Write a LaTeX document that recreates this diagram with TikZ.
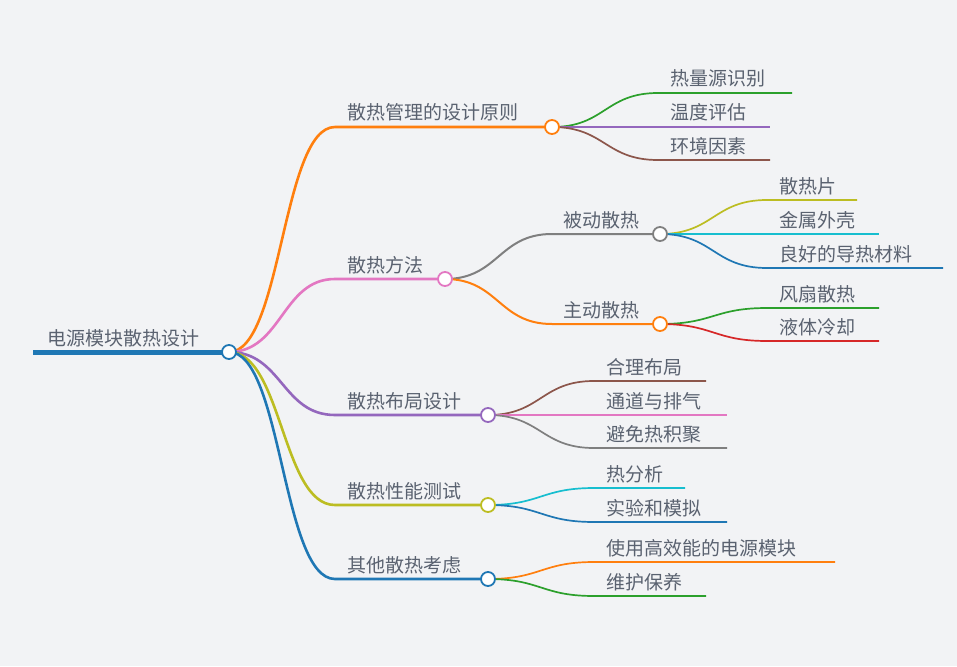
\documentclass[tikz,border=0pt]{standalone}
\usepackage{fontspec}
\setmainfont{Noto Sans CJK SC}
\usetikzlibrary{calc}
\definecolor{bg}{RGB}{242,243,245}
\definecolor{txt}{RGB}{90,98,112}
\definecolor{cblue}{HTML}{1F77B4}
\definecolor{corange}{HTML}{FF7F0E}
\definecolor{cgreen}{HTML}{2CA02C}
\definecolor{cred}{HTML}{D62728}
\definecolor{cpurple}{HTML}{9467BD}
\definecolor{cbrown}{HTML}{8C564B}
\definecolor{cpink}{HTML}{E377C2}
\definecolor{cgray}{HTML}{7F7F7F}
\definecolor{colive}{HTML}{BCBD22}
\definecolor{ccyan}{HTML}{17BECF}
\begin{document}
\begin{tikzpicture}[x=1pt,y=-1pt,
  lbl/.style={anchor=base west, inner sep=0pt, text=txt, font=\fontsize{19}{21}\selectfont},
  dot/.style={circle, draw=#1, fill=white, line width=1.8pt, minimum size=14pt, inner sep=0pt},
  l1/.style={draw=#1, line width=2.6pt, line cap=round},
  l2/.style={draw=#1, line width=2pt, line cap=round},
  l3/.style={draw=#1, line width=1.7pt},
  link/.style={to path={let \p1=(\tikztostart), \p2=(\tikztotarget) in .. controls ({0.5*\x1+0.5*\x2},\y1) and ({0.5*\x1+0.5*\x2},\y2) .. (\tikztotarget)}}
]
\fill[bg] (0,0) rectangle (957,666);
\useasboundingbox (0,0) rectangle (957,666);

% coordinates
\coordinate (rs) at (33,352);
\coordinate (root) at (229,352);
\coordinate (a1s) at (335,127); \coordinate (a1c) at (552,127);
\coordinate (a2s) at (335,279); \coordinate (a2c) at (445,279);
\coordinate (a3s) at (335,415); \coordinate (a3c) at (488,415);
\coordinate (a4s) at (335,505); \coordinate (a4c) at (488,505);
\coordinate (a5s) at (335,579); \coordinate (a5c) at (488,579);
% branch 1 leaves
\coordinate (e11s) at (658,93);  \coordinate (e11e) at (792,93);
\coordinate (e12s) at (658,127); \coordinate (e12e) at (770,127);
\coordinate (e13s) at (658,160); \coordinate (e13e) at (770,160);
% branch 2
\coordinate (b1s) at (552,234); \coordinate (b1c) at (660,234);
\coordinate (b2s) at (552,324); \coordinate (b2c) at (660,324);
\coordinate (f11s) at (767,200); \coordinate (f11e) at (857,200);
\coordinate (f12s) at (767,234); \coordinate (f12e) at (879,234);
\coordinate (f13s) at (767,268); \coordinate (f13e) at (943,268);
\coordinate (f21s) at (767,308); \coordinate (f21e) at (879,308);
\coordinate (f22s) at (767,341); \coordinate (f22e) at (879,341);
% branch 3
\coordinate (e31s) at (594,381); \coordinate (e31e) at (706,381);
\coordinate (e32s) at (594,415); \coordinate (e32e) at (727,415);
\coordinate (e33s) at (594,448); \coordinate (e33e) at (727,448);
% branch 4
\coordinate (e41s) at (594,488); \coordinate (e41e) at (685,488);
\coordinate (e42s) at (594,522); \coordinate (e42e) at (727,522);
% branch 5
\coordinate (e51s) at (594,562); \coordinate (e51e) at (835,562);
\coordinate (e52s) at (594,596); \coordinate (e52e) at (706,596);

% root underline
\draw[draw=cblue, line width=5pt] (rs) -- (root);

% depth 1
\draw[l1=corange] (root) to[link] (a1s) -- (a1c);
\draw[l1=cpink]   (root) to[link] (a2s) -- (a2c);
\draw[l1=cpurple] (root) to[link] (a3s) -- (a3c);
\draw[l1=colive]  (root) to[link] (a4s) -- (a4c);
\draw[l1=cblue]   (root) to[link] (a5s) -- (a5c);

% branch 1 children
\draw[l3=cgreen]  (a1c) to[link] (e11s) -- (e11e);
\draw[l3=cpurple] (a1c) to[link] (e12s) -- (e12e);
\draw[l3=cbrown]  (a1c) to[link] (e13s) -- (e13e);

% branch 2 children
\draw[l2=cgray]   (a2c) to[link] (b1s) -- (b1c);
\draw[l2=corange] (a2c) to[link] (b2s) -- (b2c);
\draw[l3=colive]  (b1c) to[link] (f11s) -- (f11e);
\draw[l3=ccyan]   (b1c) to[link] (f12s) -- (f12e);
\draw[l3=cblue]   (b1c) to[link] (f13s) -- (f13e);
\draw[l3=cgreen]  (b2c) to[link] (f21s) -- (f21e);
\draw[l3=cred]    (b2c) to[link] (f22s) -- (f22e);

% branch 3 children
\draw[l3=cbrown] (a3c) to[link] (e31s) -- (e31e);
\draw[l3=cpink]  (a3c) to[link] (e32s) -- (e32e);
\draw[l3=cgray]  (a3c) to[link] (e33s) -- (e33e);
% branch 4 children
\draw[l3=ccyan] (a4c) to[link] (e41s) -- (e41e);
\draw[l3=cblue] (a4c) to[link] (e42s) -- (e42e);
% branch 5 children
\draw[l3=corange] (a5c) to[link] (e51s) -- (e51e);
\draw[l3=cgreen]  (a5c) to[link] (e52s) -- (e52e);

% dots
\node[dot=cblue]   (rootdot) at (root) {};
\node[dot=corange] (d1) at (a1c) {};
\node[dot=cpink]   (d2) at (a2c) {};
\node[dot=cpurple] (d3) at (a3c) {};
\node[dot=colive]  (d4) at (a4c) {};
\node[dot=cblue]   (d5) at (a5c) {};
\node[dot=cgray]   (db1) at (b1c) {};
\node[dot=corange] (db2) at (b2c) {};

% labels
\node[lbl] (troot) at ([xshift=14pt,yshift=7pt]rs) {电源模块散热设计};
\node[lbl] (ta1) at ([xshift=12pt,yshift=7pt]a1s) {散热管理的设计原则};
\node[lbl] (ta2) at ([xshift=12pt,yshift=7pt]a2s) {散热方法};
\node[lbl] (ta3) at ([xshift=12pt,yshift=7pt]a3s) {散热布局设计};
\node[lbl] (ta4) at ([xshift=12pt,yshift=7pt]a4s) {散热性能测试};
\node[lbl] (ta5) at ([xshift=12pt,yshift=7pt]a5s) {其他散热考虑};
\node[lbl] (te11) at ([xshift=12pt,yshift=7pt]e11s) {热量源识别};
\node[lbl] (te12) at ([xshift=12pt,yshift=7pt]e12s) {温度评估};
\node[lbl] (te13) at ([xshift=12pt,yshift=7pt]e13s) {环境因素};
\node[lbl] (tb1) at ([xshift=11pt,yshift=7pt]b1s) {被动散热};
\node[lbl] (tb2) at ([xshift=11pt,yshift=7pt]b2s) {主动散热};
\node[lbl] (tf11) at ([xshift=12pt,yshift=7pt]f11s) {散热片};
\node[lbl] (tf12) at ([xshift=12pt,yshift=7pt]f12s) {金属外壳};
\node[lbl] (tf13) at ([xshift=12pt,yshift=7pt]f13s) {良好的导热材料};
\node[lbl] (tf21) at ([xshift=12pt,yshift=7pt]f21s) {风扇散热};
\node[lbl] (tf22) at ([xshift=12pt,yshift=7pt]f22s) {液体冷却};
\node[lbl] (te31) at ([xshift=12pt,yshift=7pt]e31s) {合理布局};
\node[lbl] (te32) at ([xshift=12pt,yshift=7pt]e32s) {通道与排气};
\node[lbl] (te33) at ([xshift=12pt,yshift=7pt]e33s) {避免热积聚};
\node[lbl] (te41) at ([xshift=12pt,yshift=7pt]e41s) {热分析};
\node[lbl] (te42) at ([xshift=12pt,yshift=7pt]e42s) {实验和模拟};
\node[lbl] (te51) at ([xshift=12pt,yshift=7pt]e51s) {使用高效能的电源模块};
\node[lbl] (te52) at ([xshift=12pt,yshift=7pt]e52s) {维护保养};
\end{tikzpicture}
\end{document}
